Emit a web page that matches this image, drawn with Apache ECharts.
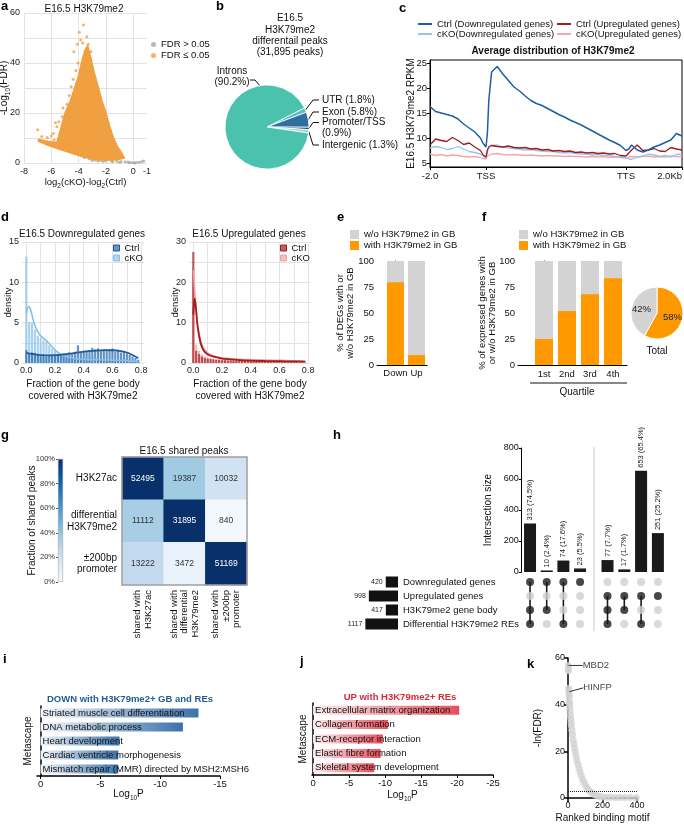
<!DOCTYPE html>
<html>
<head>
<meta charset="utf-8">
<script src="https://cdn.jsdelivr.net/npm/echarts@6.0.0/dist/echarts.min.js"></script>
<style>
html,body{margin:0;padding:0;background:#ffffff;}
#chart{width:684px;height:832px;}
</style>
</head>
<body>
<div id="chart"></div>
<script>
// ================= DATA =================
// a: volcano plot (dense cloud outline, outliers, non-significant points)
const volcanoCloud = [[-3.35,47],[-3.1,42],[-2.9,37],[-2.6,31],[-2.3,25],[-2.0,20],[-1.75,15],[-1.45,10],[-1.1,6],[-0.8,3.5],[-0.65,2],[-1.2,1.3],[-2.0,1.1],[-3.0,1.5],[-4.0,3.0],[-5.0,4.8],[-6.0,6.6],[-6.95,8.7],[-6.95,9.5],[-6.2,8.6],[-5.6,8.2],[-5.5,10],[-5.3,14],[-5.0,20],[-4.6,25],[-4.3,30],[-4.0,35],[-3.8,40],[-3.55,45]];
const volcanoOutliers = [[-3.65,55.2],[-3.95,52.3],[-3.85,49.2],[-4.1,47.5],[-4.35,44.5],[-3.7,48],[-3.3,47.5],[-3.1,44.5],[-7.0,13.3],[-6.7,10.6],[-6.3,10.2],[-6.0,10.8],[-5.85,11.8],[-5.7,16.1],[-5.6,14.5],[-5.45,16.5],[-5.2,18.5],[-5.15,22],[-4.85,23.5],[-4.7,27],[-4.55,30.5],[-4.4,33.5],[-4.2,37],[-4.05,40],[-5.8,9.2],[-6.5,8.2],[-4.9,17.5],[-3.4,50.5]];
const volcanoGray = [[-3.6,2.2],[-3.2,1.6],[-2.8,1.2],[-2.4,1.0],[-2.0,0.9],[-1.6,0.8],[-1.2,0.7],[-0.9,0.6],[-0.6,0.5],[-0.4,0.4],[-0.2,0.25],[0,0.15],[0.2,0.2],[0.4,0.35],[0.6,0.55],[0.75,0.8],[-0.3,0.1],[0.1,0.05],[-1.0,0.3],[-1.5,0.5],[-2.2,0.6],[-2.6,0.8],[-3.0,1.0]];
const volcanoXTicks = [-8,-6,-4,-2,0,1];
const volcanoYTicks = [0,20,40,60];

// b: peak annotation pie
const peakCategories = ['UTR','Exon','Promoter/TSS','Intergenic','Introns'];
const peakPercents = [1.8,5.8,0.9,1.3,90.2];

// c: metaprofile
const profileX = [0,20,40,60,80,100,120,140,160,180,190,200,205,210,220,240,260,280,300,320,340,360,380,400,420,440,460,480,500,520,540,560,580,600,620,640,660,680,700,710,720,740,760,780,800,820,840,860,880,900];
const profileCtrlDown = [16.3,15.3,15.0,14.7,14.4,13.8,12.8,12.0,11.2,10.0,8.9,8.2,11.0,17.5,23.2,24.3,22.8,21.5,20.2,19.4,18.4,17.5,16.9,16.5,15.9,15.3,14.7,14.2,13.6,13.1,12.6,12.0,11.4,10.8,10.2,9.6,9.1,8.5,7.5,7.8,8.6,7.6,7.2,7.6,8.2,8.6,9.1,9.6,10.9,10.4];
const profileCtrlUp = [8.6,9.8,9.5,9.3,10.1,9.5,8.7,9.0,8.2,7.5,6.6,6.2,7.6,8.2,8.5,8.3,8.2,8.4,8.1,8.0,8.1,7.8,7.9,7.6,7.7,7.4,7.5,7.3,7.4,7.1,7.2,7.0,7.1,6.9,7.0,6.8,6.9,6.5,6.4,7.0,7.6,8.6,7.5,7.6,7.9,7.4,7.3,8.1,7.8,7.6];
const profileCkoDown = [8.0,8.3,8.1,7.7,7.9,8.3,7.8,7.3,7.1,6.8,6.4,5.9,7.2,8.2,8.5,8.6,8.2,8.0,7.9,7.8,7.6,7.7,7.5,7.4,7.3,7.3,7.1,7.0,7.1,6.9,6.8,6.8,6.6,6.7,6.5,6.5,6.3,6.2,6.1,5.8,5.7,6.2,6.4,6.8,6.6,6.3,6.5,6.2,6.7,6.8];
const profileCkoUp = [6.8,6.5,6.7,6.4,6.6,6.5,6.3,6.2,6.3,6.1,5.9,5.8,6.4,6.7,6.8,6.9,6.7,6.6,6.7,6.6,6.5,6.6,6.5,6.4,6.5,6.4,6.4,6.3,6.4,6.3,6.3,6.2,6.3,6.2,6.3,6.1,6.2,6.1,6.0,6.2,6.3,6.2,6.3,6.4,6.2,6.3,6.2,6.4,6.3,6.2];
const profileTickPos = [0,200,700,900];
const profileTickLabels = ['-2.0','TSS','TTS','2.0Kb'];

// d: histograms + densities
const dBins = [0,0.02,0.04,0.06,0.08,0.10,0.12,0.14,0.16,0.18,0.20,0.22,0.24,0.26,0.28,0.30,0.32,0.34,0.36,0.38,0.40,0.42,0.44,0.46,0.48,0.50,0.52,0.54,0.56,0.58,0.60,0.62,0.64,0.66,0.68,0.70,0.72,0.74,0.76,0.78];
const dDownCkoHist = [13.2,5.1,5.0,4.1,3.4,3.1,2.8,2.6,2.2,1.8,1.5,1.2,1.0,0.9,0.8,0.6,0.6,0.5,0.5,0.4,0.5,0.4,0.4,0.5,0.3,0.4,0.4,0.3,0.4,0.3,0.3,0.4,0.3,0.3,0.2,0.3,0.2,0.2,0.2,0.1];
const dDownCtrlHist = [1.6,1.2,1.3,1.25,1.0,0.9,1.0,0.8,0.9,1.0,0.9,1.1,1.0,1.2,1.1,1.3,1.2,1.4,2.2,1.3,1.5,1.4,1.6,1.9,1.7,1.8,1.6,1.7,1.5,1.6,1.8,1.4,1.5,1.3,1.4,1.2,1.0,0.8,0.6,0.4];
const dDownDensX = [0,0.015,0.03,0.05,0.07,0.09,0.11,0.13,0.15,0.17,0.2,0.25,0.3,0.35,0.4,0.45,0.5,0.55,0.6,0.65,0.7,0.75,0.78];
const dDownCkoDens = [6.2,7.0,6.6,5.2,4.2,3.6,3.2,2.9,2.6,2.2,1.6,1.0,0.7,0.5,0.45,0.4,0.4,0.38,0.35,0.32,0.3,0.25,0.2];
const dDownCtrlDens = [1.3,1.2,1.15,1.1,1.05,1.0,0.98,0.95,0.95,0.95,0.97,1.05,1.15,1.28,1.4,1.5,1.55,1.6,1.58,1.5,1.3,0.9,0.6];
const dUpCtrlHist = [27.5,3.0,2.2,1.6,1.3,1.1,1.0,0.9,0.8,0.8,0.7,0.7,0.6,0.6,0.6,0.5,0.6,0.5,0.5,0.5,0.5,0.4,0.5,0.4,0.4,0.5,0.4,0.4,0.4,0.3,0.4,0.3,0.3,0.4,0.3,0.3,0.3,0.2,0.2,0.1];
const dUpCkoHist = [23.2,4.6,3.0,2.1,1.6,1.3,1.2,1.1,1.0,0.9,0.9,0.8,0.8,0.7,0.7,0.7,0.6,0.6,0.6,0.6,0.5,0.5,0.5,0.5,0.5,0.4,0.4,0.4,0.4,0.4,0.4,0.3,0.3,0.3,0.3,0.3,0.2,0.2,0.2,0.1];
const dUpDensX = [0,0.01,0.02,0.03,0.05,0.07,0.1,0.15,0.2,0.3,0.4,0.5,0.6,0.7,0.78];
const dUpCtrlDens = [12,16,13,9,5,3.2,2.1,1.5,1.1,0.8,0.6,0.5,0.45,0.4,0.35];
const dUpCkoDens = [23,18,13,9.5,5.8,3.8,2.5,1.7,1.3,1.0,0.85,0.75,0.65,0.55,0.45];

// e
const eCategories = ['Down','Up'];
const eWith = [79.5,9.5];
const eWithout = [20.5,90.5];
// f
const fCategories = ['1st','2nd','3rd','4th'];
const fWith = [25,52,68,83.5];
const fWithout = [75,48,32,16.5];
const fTotal = [58,42];

// g
const gRows = ['H3K27ac','differential\nH3K79me2','±200bp\npromoter'];
const gCols = ['shared with\nH3K27ac','shared with\ndifferential\nH3K79me2','shared with\n±200bp\npromoter'];
const gCounts = [[52495,19387,10032],[11112,31895,840],[13222,3472,51169]];

// h
const hSetNames = ['Downregulated genes','Upregulated genes','H3K79me2 gene body','Differential H3K79me2 REs'];
const hSetSizes = [420,998,417,1117];
const hIntersectSizes = [313,10,74,23,77,17,653,251];
const hIntersectPct = ['74.5','2.4','17.6','5.5','7.7','1.7','65.4','25.2'];
const hMembership = [[1,0,1,1],[1,0,1,0],[1,0,0,1],[1,0,0,0],[0,1,1,1],[0,1,1,0],[0,1,0,1],[0,1,0,0]];

// i
const iTerms = ['Striated muscle cell differentiation','DNA metabolic process','Heart development','Cardiac ventricle morphogenesis','Mismatch repair (MMR) directed by MSH2:MSH6'];
const iLogP = [-13.2,-11.9,-6.6,-6.5,-6.5];
// j
const jTerms = ['Extracellular matrix organization','Collagen formation','ECM-receptor interaction','Elastic fibre formation','Skeletal system development'];
const jLogP = [-20.3,-10.4,-9.7,-9.4,-8.5];

// k
const kRank = [1,2,3,4,5,6,7,8,9,10,12,14,16,18,20,23,26,30,34,38,42,47,52,58,64,70,77,85,93,102,112,122,133,145,158,172,188,205,225,250,275,300,330,360,395];
const kNegLnFDR = [56.8,55.2,54.5,47,45.5,44.2,43.5,41.5,40.6,39.5,37.5,35.5,34,32.5,31,29,27.2,25,23.2,21.5,19.8,18,16.2,14.4,12.7,11.1,9.6,8.0,6.6,5.3,4.2,3.2,2.5,1.8,1.3,0.9,0.6,0.45,0.35,0.3,0.25,0.22,0.2,0.18,0.15];
const kThreshold = 3;
const kLabels = [['MBD2',0],['HINFP',4]];

// ================= STYLE =================
const FONT = '"Liberation Sans", Arial, Helvetica, sans-serif';
const ORANGE = '#f0a040';
const BAR_ORANGE = '#ff9900';
const LIGHT_GRAY = '#d3d3d3';
const GRIDC = '#e3e3e3';
const INK = '#111111';
const BLUES = ['#f7fbff','#deebf7','#c6dbef','#9ecae1','#6baed6','#4292c6','#2171b5','#08519c','#08306b'];
const PIE_B_COLORS = ['#5cbcc8','#2f6f9f','#1f3d7c','#9edcc0','#4bc2ad'];
const PIE_B_BREAK = [false,false,true,false,true];
const PIE_B_ANCHOR = [[322,100],[322,112],[322,128],[322,145],[232,77]];
const SUB = {s:{fontSize:6.5, verticalAlign:'bottom', lineHeight:15, fontFamily:FONT, color:INK}};
const nameStyle = (extra) => Object.assign({fontSize:9.5, color:INK, fontFamily:FONT}, extra||{});
const lab = (extra) => Object.assign({fontSize:9, color:'#222', fontFamily:FONT}, extra||{});
const blackLine = {show:true, lineStyle:{color:'#000', width:1}};

const chart = echarts.init(document.getElementById('chart'), null, {renderer:'canvas', width:684, height:832});

const G = (l,t,w,h,extra) => Object.assign({left:l, top:t, width:w, height:h, containLabel:false, outerBoundsMode:'none'}, extra||{});
const grids = [
  G(24,13,123,150),            //0 a
  G(430,60,252,107,{show:true, borderColor:'#000', borderWidth:1}), //1 c
  G(22,242,122,121),           //2 dL
  G(189,242,122,121),          //3 dR
  G(377,261,50,104),           //4 e
  G(518,261,109,104),          //5 f
  G(122,457,125,128),          //6 g heat
  G(58,459,5,123),             //7 colorbar
  G(521.7,448,66.7,124),       //8 h bars L
  G(599.1,448,67.2,124),       //9 h bars R
  G(521.7,575,66.7,56),        //10 dots L
  G(599.1,575,67.2,56),        //11 dots R
  G(365,575,33,56),            //12 set sizes
  G(37,706,183,70),            //13 i
  G(312,703,181,72),           //14 j
  G(568,658,69,140)            //15 k
];

const dTicks = [0,0.1,0.2,0.3,0.4,0.5,0.6,0.7,0.8];
const dLabels = [0,0.2,0.4,0.6,0.8];

const xAxes = [
  {gridIndex:0, type:'value', min:-8, max:1, axisLine:{show:false}, axisTick:{show:false, customValues:[-8,-6,-4,-2,0]},
   axisLabel:lab({customValues:volcanoXTicks, formatter:v=>v===1?'-1':String(v), margin:4}),
   splitLine:{show:true, lineStyle:{color:GRIDC}}, name:'log{s|2}(cKO)-log{s|2}(Ctrl)', nameLocation:'middle', nameGap:12, nameTextStyle:nameStyle({rich:SUB})},
  {gridIndex:1, type:'value', min:0, max:900, axisLine:blackLine, axisTick:{show:true, customValues:profileTickPos, length:3, lineStyle:{color:'#000'}},
   axisLabel:lab({customValues:profileTickPos, formatter:v=>profileTickLabels[profileTickPos.indexOf(v)], fontSize:9.5, margin:4, alignMaxLabel:'right', color:INK}), splitLine:{show:false}},
  {gridIndex:2, type:'value', min:-0.03, max:0.82, axisLine:{show:false}, axisTick:{show:false, customValues:dTicks},
   axisLabel:lab({customValues:dLabels, formatter:v=>v.toFixed(1), margin:3}), splitLine:{show:true, lineStyle:{color:GRIDC}},
   name:'Fraction of the gene body\ncovered with H3K79me2', nameLocation:'middle', nameGap:15, nameTextStyle:nameStyle({lineHeight:12, fontSize:10, verticalAlign:'top'})},
  {gridIndex:3, type:'value', min:-0.03, max:0.82, axisLine:{show:false}, axisTick:{show:false, customValues:dTicks},
   axisLabel:lab({customValues:dLabels, formatter:v=>v.toFixed(1), margin:3}), splitLine:{show:true, lineStyle:{color:GRIDC}},
   name:'Fraction of the gene body\ncovered with H3K79me2', nameLocation:'middle', nameGap:15, nameTextStyle:nameStyle({lineHeight:12, fontSize:10, verticalAlign:'top'})},
  {gridIndex:4, type:'value', min:-0.88, max:1.5, axisLine:blackLine, axisTick:{show:false},
   axisLabel:lab({customValues:[0,1], formatter:v=>eCategories[v], fontSize:9.5, margin:3, color:INK}), splitLine:{show:false}},
  {gridIndex:5, type:'value', min:-1.13, max:3.61, axisLine:blackLine, axisTick:{show:false},
   axisLabel:lab({customValues:[0,1,2,3], formatter:v=>fCategories[v], fontSize:9.5, margin:4, color:INK}), splitLine:{show:false}},
  {gridIndex:6, type:'category', data:gCols, axisLine:{show:false}, axisTick:{show:false},
   axisLabel:lab({rotate:90, fontSize:9.5, lineHeight:10.5, margin:5, color:INK}), splitLine:{show:false}},
  {gridIndex:7, type:'category', data:[''], show:false},
  {gridIndex:8, type:'category', data:['1','2','3','4'], show:false},
  {gridIndex:9, type:'category', data:['5','6','7','8'], show:false},
  {gridIndex:10, type:'category', data:['1','2','3','4'], show:false},
  {gridIndex:11, type:'category', data:['5','6','7','8'], show:false},
  {gridIndex:12, type:'value', inverse:true, min:0, max:1130, show:false},
  {gridIndex:13, type:'value', inverse:true, min:-15, max:0.3, axisLine:{show:true, lineStyle:{color:'#000', width:1.5}},
   axisTick:{show:true, customValues:[0,-5,-10,-15], length:3, lineStyle:{color:'#000'}},
   axisLabel:lab({customValues:[0,-5,-10,-15], fontSize:9.5, margin:3, color:INK}), splitLine:{show:false},
   name:'Log{s|10}P', nameLocation:'middle', nameGap:11, nameTextStyle:nameStyle({fontSize:10, rich:SUB})},
  {gridIndex:14, type:'value', inverse:true, min:-25, max:0.15, axisLine:{show:true, lineStyle:{color:'#000', width:1.5}},
   axisTick:{show:true, customValues:[0,-5,-10,-15,-20,-25], length:3, lineStyle:{color:'#000'}},
   axisLabel:lab({customValues:[0,-5,-10,-15,-20,-25], fontSize:9.5, margin:3, color:INK}), splitLine:{show:false},
   name:'Log{s|10}P', nameLocation:'middle', nameGap:13, nameTextStyle:nameStyle({fontSize:10, rich:SUB})},
  {gridIndex:15, type:'value', min:0, max:400, axisLine:{show:true, lineStyle:{color:'#000', width:1.5}},
   axisTick:{show:true, customValues:[0,200,400], length:4, lineStyle:{color:'#000', width:1.5}},
   axisLabel:lab({customValues:[0,200,400], fontSize:9, margin:3, color:INK}), splitLine:{show:false},
   name:'Ranked binding motif', nameLocation:'middle', nameGap:15, nameTextStyle:nameStyle({fontSize:10})}
];

const yAxes = [
  {gridIndex:0, type:'value', min:0, max:60, axisLine:{show:false}, axisTick:{show:false, customValues:[0,10,20,30,40,50,60]},
   axisLabel:lab({customValues:volcanoYTicks, margin:4}), splitLine:{show:true, lineStyle:{color:GRIDC}},
   name:'-Log{s|10}(FDR)', nameLocation:'middle', nameGap:12, nameTextStyle:nameStyle({fontSize:10, rich:SUB})},
  {gridIndex:1, type:'value', min:4.2, max:25.6, axisLine:blackLine, axisTick:{show:true, customValues:[5,10,15,20,25], length:3, lineStyle:{color:'#000'}},
   axisLabel:lab({customValues:[5,10,15,20,25], fontSize:9.5, margin:3, color:INK}), splitLine:{show:false},
   name:'E16.5 H3K79me2 RPKM', nameLocation:'middle', nameGap:14, nameTextStyle:nameStyle({fontSize:10})},
  {gridIndex:2, type:'value', min:0, max:15, axisLine:{show:false}, axisTick:{show:false, customValues:[0,2.5,5,7.5,10,12.5,15]},
   axisLabel:lab({customValues:[0,5,10,15], margin:3}), splitLine:{show:true, lineStyle:{color:GRIDC}},
   name:'density', nameLocation:'middle', nameGap:9, nameTextStyle:nameStyle()},
  {gridIndex:3, type:'value', min:0, max:30, axisLine:{show:false}, axisTick:{show:false, customValues:[0,5,10,15,20,25,30]},
   axisLabel:lab({customValues:[0,10,20,30], margin:3}), splitLine:{show:true, lineStyle:{color:GRIDC}},
   name:'density', nameLocation:'middle', nameGap:9, nameTextStyle:nameStyle()},
  {gridIndex:4, type:'value', min:0, max:100, axisLine:blackLine, axisTick:{show:true, customValues:[0,25,50,75,100], length:3, lineStyle:{color:'#000'}},
   axisLabel:lab({customValues:[0,25,50,75,100], fontSize:9.5, margin:3, color:INK}), splitLine:{show:false},
   name:'% of DEGs with or\nw/o H3K79me2 in GB', nameLocation:'middle', nameGap:22, nameTextStyle:nameStyle({fontSize:9.5, lineHeight:10})},
  {gridIndex:5, type:'value', min:0, max:100, axisLine:blackLine, axisTick:{show:true, customValues:[0,25,50,75,100], length:3, lineStyle:{color:'#000'}},
   axisLabel:lab({customValues:[0,25,50,75,100], fontSize:9.5, margin:3, color:INK}), splitLine:{show:false},
   name:'% of expressed genes with\nor w/o H3K79me2 in GB', nameLocation:'middle', nameGap:21, nameTextStyle:nameStyle({fontSize:9.5, lineHeight:10})},
  {gridIndex:6, type:'category', data:gRows, inverse:true, axisLine:{show:false}, axisTick:{show:false},
   axisLabel:lab({fontSize:10, lineHeight:11.5, margin:5, color:INK, align:'right'})},
  {gridIndex:7, type:'value', min:0, max:100, interval:20, axisLine:{show:false}, axisTick:{show:true, length:2, lineStyle:{color:'#555'}},
   axisLabel:lab({formatter:'{value}%', fontSize:7.5, margin:3, color:'#333'}), splitLine:{show:false},
   name:'Fraction of shared peaks', nameLocation:'middle', nameGap:21, nameTextStyle:nameStyle({fontSize:10})},
  {gridIndex:8, type:'value', min:0, max:800, interval:200, axisLine:blackLine, axisTick:{show:true, length:3, lineStyle:{color:'#000'}},
   axisLabel:lab({fontSize:9, margin:3, color:INK}), splitLine:{show:false},
   name:'Intersection size', nameLocation:'middle', nameGap:28, nameTextStyle:nameStyle({fontSize:10})},
  {gridIndex:9, type:'value', min:0, max:800, interval:200, show:false},
  {gridIndex:10, type:'category', data:hSetNames, inverse:true, show:false},
  {gridIndex:11, type:'category', data:hSetNames, inverse:true, show:false},
  {gridIndex:12, type:'category', data:hSetNames, inverse:true, position:'right', axisLine:{show:false}, axisTick:{show:false},
   axisLabel:lab({fontSize:9.5, margin:5, color:INK, align:'left'})},
  {gridIndex:13, type:'category', data:iTerms, inverse:true, axisLine:{show:true, lineStyle:{color:'#000', width:1.5}}, axisTick:{show:false}, axisLabel:{show:false},
   name:'Metascape', nameLocation:'middle', nameGap:4, nameTextStyle:nameStyle({fontSize:10})},
  {gridIndex:14, type:'category', data:jTerms, inverse:true, axisLine:{show:true, lineStyle:{color:'#000', width:1.5}}, axisTick:{show:false}, axisLabel:{show:false},
   name:'Metascape', nameLocation:'middle', nameGap:4, nameTextStyle:nameStyle({fontSize:10})},
  {gridIndex:15, type:'value', min:0, max:60, axisLine:{show:true, lineStyle:{color:'#000', width:1.5}},
   axisTick:{show:true, customValues:[0,20,40,60], length:4, lineStyle:{color:'#000', width:1.5}},
   axisLabel:lab({customValues:[0,20,40,60], fontSize:9, margin:3, color:INK}), splitLine:{show:false},
   name:'-ln(FDR)', nameLocation:'middle', nameGap:25, nameTextStyle:nameStyle({fontSize:10})}
];
xAxes.forEach(a=>a.nameMoveOverlap=false);
yAxes.forEach(a=>a.nameMoveOverlap=false);

// ================= SERIES =================
const series = [];
// a
series.push({type:'scatter', name:'FDR > 0.05', xAxisIndex:0, yAxisIndex:0, data:volcanoGray, symbolSize:3, itemStyle:{color:'#a8a8a8'}, z:2, silent:true});
series.push({type:'scatter', name:'FDR ≤ 0.05', xAxisIndex:0, yAxisIndex:0, data:volcanoOutliers, symbolSize:3, itemStyle:{color:ORANGE}, z:4, silent:true});
series.push({type:'custom', name:'FDR ≤ 0.05', xAxisIndex:0, yAxisIndex:0, data:volcanoCloud, z:3, silent:true, itemStyle:{color:ORANGE},
  renderItem:(params, api)=>{
    if (params.dataIndex !== 0) return null;
    const pts = volcanoCloud.map(p=>api.coord(p));
    return {type:'polygon', shape:{points:pts}, style:{fill:ORANGE, stroke:ORANGE, lineWidth:1.5, lineJoin:'round'}};
  }});
// b
series.push({type:'pie', name:'peaks', center:[267,127], radius:42, startAngle:27, clockwise:true, silent:true, avoidLabelOverlap:false,
  data: peakCategories.map((n,i)=>({name:n, value:peakPercents[i], itemStyle:{color:PIE_B_COLORS[i]}})),
  itemStyle:{borderColor:'#fff', borderWidth:0.8},
  label:{show:true, position:'outside', formatter:p=>p.name+(PIE_B_BREAK[p.dataIndex]?'\n':' ')+'('+p.value+'%)', fontSize:10, color:INK, lineHeight:11, fontFamily:FONT},
  labelLine:{show:true, length:5, length2:5, lineStyle:{color:INK, width:1}},
  labelLayout:(params)=>{
    const i = params.dataIndex; const x = PIE_B_ANCHOR[i][0], y = PIE_B_ANCHOR[i][1];
    if (i === 4) return {x:x, y:y, align:'center', verticalAlign:'middle', labelLinePoints:[[259.7,85.6],[255,80],[250,80]]};
    const start = params.labelLinePoints ? params.labelLinePoints[0] : [309,127];
    const ly = i === 2 ? y-5.5 : y;
    return {x:x, y:y, align:'left', verticalAlign:'middle', labelLinePoints:[start,[313,ly],[319,ly]]};
  }});
// c
const profLine = (name, arr, color, w, z) => ({type:'line', name, xAxisIndex:1, yAxisIndex:1, data:profileX.map((x,i)=>[x,arr[i]]), symbol:'none', lineStyle:{color, width:w}, itemStyle:{color}, silent:true, z});
series.push(profLine('cKO(Upregulated genes)', profileCkoUp, '#f3a6ae', 1.3, 2));
series.push(profLine('cKO(Downregulated genes)', profileCkoDown, '#93c6ea', 1.3, 3));
series.push(profLine('Ctrl (Upregulated genes)', profileCtrlUp, '#a3191c', 1.3, 4));
series.push(profLine('Ctrl (Downregulated genes)', profileCtrlDown, '#1d5ea6', 1.5, 5));
// d
const hist = (name, gi, arr, color) => ({type:'bar', name, xAxisIndex:gi, yAxisIndex:gi, data:dBins.map((x,i)=>[x,arr[i]]), barWidth:2.2, barGap:'-100%', itemStyle:{color}, silent:true});
const dens = (name, gi, xs, ys, color, w) => ({type:'line', name, xAxisIndex:gi, yAxisIndex:gi, data:xs.map((x,i)=>[x,ys[i]]), smooth:0.3, symbol:'none', lineStyle:{color, width:w}, itemStyle:{color}, silent:true, z:4});
series.push(hist('dCkoDown', 2, dDownCkoHist, 'rgba(140,195,234,0.75)'));
series.push(hist('dCtrlDown', 2, dDownCtrlHist, 'rgba(33,102,172,0.7)'));
series.push(dens('dCkoDownDens', 2, dDownDensX, dDownCkoDens, '#86bfe6', 1.6));
series.push(dens('dCtrlDownDens', 2, dDownDensX, dDownCtrlDens, '#1f5b9c', 1.8));
series.push(hist('dCkoUp', 3, dUpCkoHist, 'rgba(244,160,170,0.75)'));
series.push(hist('dCtrlUp', 3, dUpCtrlHist, 'rgba(165,30,30,0.7)'));
series.push(dens('dCkoUpDens', 3, dUpDensX, dUpCkoDens, '#f2a0a8', 1.6));
series.push(dens('dCtrlUpDens', 3, dUpDensX, dUpCtrlDens, '#a31d1d', 1.8));
// e : gray bar = with + without (full height), orange bar drawn over it
series.push({type:'bar', name:'w/o H3K79me2 in GB', xAxisIndex:4, yAxisIndex:4, data:eWith.map((v,i)=>[i, v+eWithout[i]]), barWidth:17, barGap:'-100%', itemStyle:{color:LIGHT_GRAY}, silent:true, z:2});
series.push({type:'bar', name:'with H3K79me2 in GB', xAxisIndex:4, yAxisIndex:4, data:eWith.map((v,i)=>[i, v]), barWidth:17, barGap:'-100%', itemStyle:{color:BAR_ORANGE}, silent:true, z:3});
// f
series.push({type:'bar', name:'w/o H3K79me2 in GB', xAxisIndex:5, yAxisIndex:5, data:fWith.map((v,i)=>[i, v+fWithout[i]]), barWidth:18, barGap:'-100%', itemStyle:{color:LIGHT_GRAY}, silent:true, z:2});
series.push({type:'bar', name:'with H3K79me2 in GB', xAxisIndex:5, yAxisIndex:5, data:fWith.map((v,i)=>[i, v]), barWidth:18, barGap:'-100%', itemStyle:{color:BAR_ORANGE}, silent:true, z:3});
series.push({type:'pie', name:'Total', center:[657,313], radius:26, startAngle:90, silent:true,
  data:[{name:'with (total)', value:fTotal[0], itemStyle:{color:BAR_ORANGE}}, {name:'w/o (total)', value:fTotal[1], itemStyle:{color:LIGHT_GRAY}}],
  itemStyle:{borderColor:'#fff', borderWidth:1}, label:{show:true, position:'inside', formatter:'{c}%', fontSize:9.5, color:'#222', fontFamily:FONT}, labelLine:{show:false}});
// g
const heatData = [];
gCounts.forEach((row,r)=>row.forEach((cnt,c)=>{
  const frac = cnt / gCounts[r][r];
  heatData.push({value:[c,r,frac], label:{color: frac>0.55 ? '#ffffff' : '#333333'}});
}));
const heatIdx = series.length;
series.push({type:'heatmap', xAxisIndex:6, yAxisIndex:6, data:heatData, silent:true,
  label:{show:true, fontSize:8.5, fontFamily:FONT, formatter:p=>String(gCounts[p.value[1]][p.value[0]])}});
series.push({type:'bar', xAxisIndex:7, yAxisIndex:7, data:[100], barWidth:5, silent:true,
  itemStyle:{color:new echarts.graphic.LinearGradient(0,0,0,1, BLUES.slice().reverse().map((c,i,a)=>({offset:i/(a.length-1), color:c}))), borderColor:'#999', borderWidth:0.5}});
// h
const hLabel = off => ({show:true, position:'top', rotate:90, align:'left', verticalAlign:'middle', distance:3, fontSize:7.5, color:'#222', fontFamily:FONT,
  formatter:p=>hIntersectSizes[p.dataIndex+off]+' ('+hIntersectPct[p.dataIndex+off]+'%)'});
series.push({type:'bar', xAxisIndex:8, yAxisIndex:8, data:hIntersectSizes.slice(0,4), barWidth:12, itemStyle:{color:'#1a1a1a'}, label:hLabel(0), silent:true});
series.push({type:'bar', xAxisIndex:9, yAxisIndex:9, data:hIntersectSizes.slice(4), barWidth:12, itemStyle:{color:'#1a1a1a'}, label:hLabel(4), silent:true});
function dotData(start){
  const out=[];
  for (let c=0;c<4;c++) for (let r=0;r<4;r++){
    const on = hMembership[start+c][r];
    out.push({value:[c,r], itemStyle:{color:on?'#1a1a1a':'#d0d0d0'}});
  }
  return out;
}
function linkData(start){
  return hMembership.slice(start,start+4).map((m,c)=>{
    const rows = m.map((v,r)=>v?r:-1).filter(r=>r>=0);
    return [c, Math.min.apply(null,rows), Math.max.apply(null,rows)];
  });
}
const linkRender = (params, api) => {
  const a = api.coord([api.value(0), api.value(1)]);
  const b = api.coord([api.value(0), api.value(2)]);
  return {type:'line', shape:{x1:a[0], y1:a[1], x2:b[0], y2:b[1]}, style:{stroke:'#1a1a1a', lineWidth:1.6}};
};
series.push({type:'custom', xAxisIndex:10, yAxisIndex:10, data:linkData(0), renderItem:linkRender, silent:true, z:2});
series.push({type:'custom', xAxisIndex:11, yAxisIndex:11, data:linkData(4), renderItem:linkRender, silent:true, z:2});
series.push({type:'scatter', xAxisIndex:10, yAxisIndex:10, data:dotData(0), symbolSize:8, silent:true, z:3});
series.push({type:'scatter', xAxisIndex:11, yAxisIndex:11, data:dotData(4), symbolSize:8, silent:true, z:3});
series.push({type:'bar', xAxisIndex:12, yAxisIndex:12, data:hSetSizes, barWidth:11, itemStyle:{color:'#111'}, silent:true,
  label:{show:true, position:'left', distance:3, fontSize:7, color:'#222', fontFamily:FONT}});
// i, j
series.push({type:'bar', xAxisIndex:13, yAxisIndex:13, data:iLogP, barWidth:9, silent:true,
  itemStyle:{color:new echarts.graphic.LinearGradient(0,0,1,0,[{offset:0,color:'#f1f6fb'},{offset:1,color:'#3a72ab'}])},
  label:{show:true, position:'insideLeft', distance:2, formatter:'{b}', fontSize:9.5, color:'#111', fontFamily:FONT}});
series.push({type:'bar', xAxisIndex:14, yAxisIndex:14, data:jLogP, barWidth:9, silent:true,
  itemStyle:{color:new echarts.graphic.LinearGradient(0,0,1,0,[{offset:0,color:'#fdf0f1'},{offset:1,color:'#e84e5a'}])},
  label:{show:true, position:'insideLeft', distance:2, formatter:'{b}', fontSize:9.5, color:'#111', fontFamily:FONT}});
// k
series.push({type:'scatter', xAxisIndex:15, yAxisIndex:15, data:kRank.map((r,i)=>[r,kNegLnFDR[i]]), symbolSize:7, itemStyle:{color:'#d3d3d3'}, silent:true,
  markLine:{silent:true, symbol:'none', label:{show:false}, lineStyle:{type:'dotted', color:'#222', width:1}, data:[{yAxis:kThreshold}]}});
series.push({type:'scatter', xAxisIndex:15, yAxisIndex:15, data:kLabels.map(k=>({name:k[0], value:[kRank[k[1]], kNegLnFDR[k[1]]]})),
  symbolSize:1, itemStyle:{color:'rgba(0,0,0,0)'}, silent:true, z:5,
  label:{show:true, formatter:'{b}', position:'right', distance:3, fontSize:9.5, color:INK, fontFamily:FONT},
  labelLine:{show:true, lineStyle:{color:'#333', width:1}},
  labelLayout:(p)=>({dx:11, dy:p.dataIndex===0?0:-4})});

// ================= LEGENDS =================
const legBase = {orient:'vertical', padding:0, selectedMode:false, textStyle:{fontSize:9.5, color:INK, fontFamily:FONT}};
const legends = [
  Object.assign({}, legBase, {left:151, top:39.5, icon:'circle', itemWidth:5, itemHeight:5, itemGap:1, data:['FDR > 0.05','FDR ≤ 0.05']}),
  Object.assign({}, legBase, {left:418, top:19, icon:'rect', itemWidth:14, itemHeight:2, itemGap:0, textStyle:{fontSize:9.5, color:INK, fontFamily:FONT, lineHeight:10}, data:['Ctrl (Downregulated genes)','cKO(Downregulated genes)']}),
  Object.assign({}, legBase, {left:557, top:19, icon:'rect', itemWidth:14, itemHeight:2, itemGap:0, textStyle:{fontSize:9.5, color:INK, fontFamily:FONT, lineHeight:10}, data:['Ctrl (Upregulated genes)','cKO(Upregulated genes)']}),
  Object.assign({}, legBase, {left:113, top:243, icon:'rect', itemWidth:6, itemHeight:6, itemGap:0, textStyle:{fontSize:9.5, color:INK, fontFamily:FONT, lineHeight:10},
    formatter:n=>n.indexOf('Ctrl')>=0?'Ctrl':'cKO',
    data:[{name:'dCtrlDown', itemStyle:{color:'rgba(33,102,172,0.7)', borderColor:'#1f5b9c', borderWidth:1}}, {name:'dCkoDown', itemStyle:{color:'rgba(140,195,234,0.7)', borderColor:'#86bfe6', borderWidth:1}}]}),
  Object.assign({}, legBase, {left:280, top:243, icon:'rect', itemWidth:6, itemHeight:6, itemGap:0, textStyle:{fontSize:9.5, color:INK, fontFamily:FONT, lineHeight:10},
    formatter:n=>n.indexOf('Ctrl')>=0?'Ctrl':'cKO',
    data:[{name:'dCtrlUp', itemStyle:{color:'rgba(165,30,30,0.7)', borderColor:'#a31d1d', borderWidth:1}}, {name:'dCkoUp', itemStyle:{color:'rgba(244,160,170,0.7)', borderColor:'#f2a0a8', borderWidth:1}}]}),
  Object.assign({}, legBase, {left:350, top:229.5, icon:'rect', itemWidth:9, itemHeight:9, itemGap:1, data:['w/o H3K79me2 in GB','with H3K79me2 in GB']}),
  Object.assign({}, legBase, {left:519, top:229.5, icon:'rect', itemWidth:9, itemHeight:9, itemGap:1, data:['w/o H3K79me2 in GB','with H3K79me2 in GB']})
];

// ================= GRAPHIC TEXT =================
const letter = (t,x,y)=>({type:'text', x, y, silent:true, z:100, style:{text:t, fontSize:13, fontWeight:'bold', fontFamily:FONT, fill:'#000', align:'left', verticalAlign:'top'}});
const txt = (t,x,y,o)=>({type:'text', x, y, silent:true, z:100, style:Object.assign({text:t, fontSize:10, fontFamily:FONT, fill:INK, align:'center', verticalAlign:'middle'}, o||{})});
const graphics = [
  letter('a',1,0), letter('b',216,0), letter('c',399,2), letter('d',1,211), letter('e',337,211), letter('f',482,211),
  letter('g',1,429), letter('h',333,429), letter('i',3,653), letter('j',300,655), letter('k',527,658),
  txt('E16.5 H3K79me2',84,9),
  txt('E16.5',290,18), txt('H3K79me2',290,30), txt('differentail peaks',290,41), txt('(31,895 peaks)',290,52),
  txt('Average distribution of H3K79me2',553,51,{fontWeight:'bold'}),
  txt('E16.5 Downregulated genes',82,234), txt('E16.5 Upregulated genes',249,234),
  txt('E16.5 shared peaks',184,451),
  txt('DOWN with H3K79me2+ GB and REs',130,699,{fontWeight:'bold', fill:'#1f5c99', fontSize:9.5}),
  txt('UP with H3K79me2+ REs',400,697,{fontWeight:'bold', fill:'#d42a3c', fontSize:9.5}),
  txt('Total',657,351),
  txt('Quartile',577,392),
  {type:'line', silent:true, z:100, shape:{x1:530,y1:383,x2:627,y2:383}, style:{stroke:INK, lineWidth:1}},
  {type:'line', silent:true, z:100, shape:{x1:594,y1:447,x2:594,y2:631}, style:{stroke:'#c8c8c8', lineWidth:1}},
  {type:'rect', silent:true, z:100, shape:{x:122,y:457,width:125,height:128}, style:{fill:'none', stroke:'#a0a0a0', lineWidth:1.5}}
];

const option = {
  animation:false,
  backgroundColor:'#ffffff',
  textStyle:{fontFamily:FONT},
  grid:grids,
  xAxis:xAxes,
  yAxis:yAxes,
  legend:legends,
  visualMap:[{type:'continuous', show:false, min:0, max:1, dimension:2, seriesIndex:heatIdx, inRange:{color:BLUES}}],
  series:series,
  graphic:{elements:graphics}
};
chart.setOption(option);
</script>
</body>
</html>
